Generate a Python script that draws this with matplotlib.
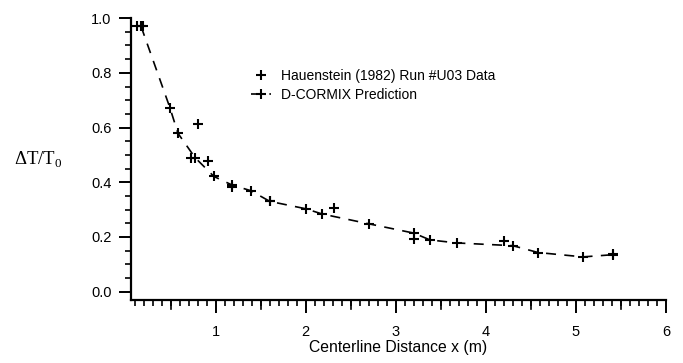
import matplotlib
matplotlib.use('Agg')
import matplotlib.pyplot as plt
from matplotlib.ticker import MultipleLocator

plt.rcParams['font.family'] = ['Liberation Sans', 'DejaVu Sans']
plt.rcParams['mathtext.fontset'] = 'custom'
plt.rcParams['mathtext.rm'] = 'Liberation Serif'

# Hauenstein (1982) measured data
data_x = [0.12, 0.19, 0.73, 0.80, 0.91, 1.18, 1.60, 2.31, 3.20, 4.20, 5.41]
data_y = [0.970, 0.970, 0.490, 0.612, 0.479, 0.382, 0.330, 0.306, 0.192, 0.184, 0.137]

# D-CORMIX prediction
pred_x = [0.17, 0.49, 0.58, 0.77, 0.98, 1.18, 1.39, 1.60, 2.00, 2.18, 2.70, 3.20,
          3.38, 3.68, 4.30, 4.58, 5.08, 5.41]
pred_y = [0.970, 0.673, 0.579, 0.490, 0.421, 0.390, 0.369, 0.330, 0.303, 0.284,
          0.248, 0.214, 0.189, 0.178, 0.168, 0.143, 0.127, 0.135]

fig = plt.figure(figsize=(6.83, 3.63), dpi=100)
ax = fig.add_axes([0.192, 0.174, 0.783, 0.776])

ax.plot(data_x, data_y, linestyle='none', marker='+', color='black',
        markersize=6.5, markeredgewidth=1.5, label='Hauenstein (1982) Run #U03 Data')
ax.plot(pred_x, pred_y, linestyle=(0, (6, 5)), linewidth=1.2, marker='+',
        color='black', markersize=6.5, markeredgewidth=1.5, label='D-CORMIX Prediction')

ax.set_xlim(0.06, 6.0)
ax.set_ylim(-0.03, 1.0)
ax.spines['top'].set_visible(False)
ax.spines['right'].set_visible(False)
ax.spines['left'].set_bounds(-0.03, 1.0)
ax.spines['left'].set_linewidth(1.6)
ax.spines['bottom'].set_linewidth(1.6)

ax.xaxis.set_minor_locator(MultipleLocator(0.1))
ax.yaxis.set_minor_locator(MultipleLocator(0.05))
ax.set_yticks([0.0, 0.2, 0.4, 0.6, 0.8, 1.0])
ax.set_yticklabels(['0.0', '0.2', '0.4', '0.6', '0.8', '1.0'])
ax.set_xticks([1, 2, 3, 4, 5, 6])
ax.set_xticklabels(['1', '2', '3', '4', '5', '6'])
ax.tick_params(which='major', direction='out', length=9, width=1.4, labelsize=10.5, color='black')
ax.tick_params(which='minor', direction='out', length=4.5, width=1.2)
ax.tick_params(axis='x', pad=9)
ax.tick_params(axis='y', pad=5)

# medium ticks at half units
for xh in [0.5, 1.5, 2.5, 3.5, 4.5, 5.5]:
    ax.plot([xh, xh], [0, -0.032], transform=ax.get_xaxis_transform(),
            color='black', lw=1.2, clip_on=False)

ax.set_xlabel('Centerline Distance x (m)', fontsize=11.3, labelpad=1)
fig.text(0.02, 0.545, r'ΔT/T$_0$', fontsize=13.5, family='Liberation Serif')

ax.legend(loc='upper left', bbox_to_anchor=(0.2, 0.865), frameon=False,
          fontsize=10, handlelength=1.5, handletextpad=0.7, labelspacing=0.4)

fig.savefig('out.png', dpi=100)
